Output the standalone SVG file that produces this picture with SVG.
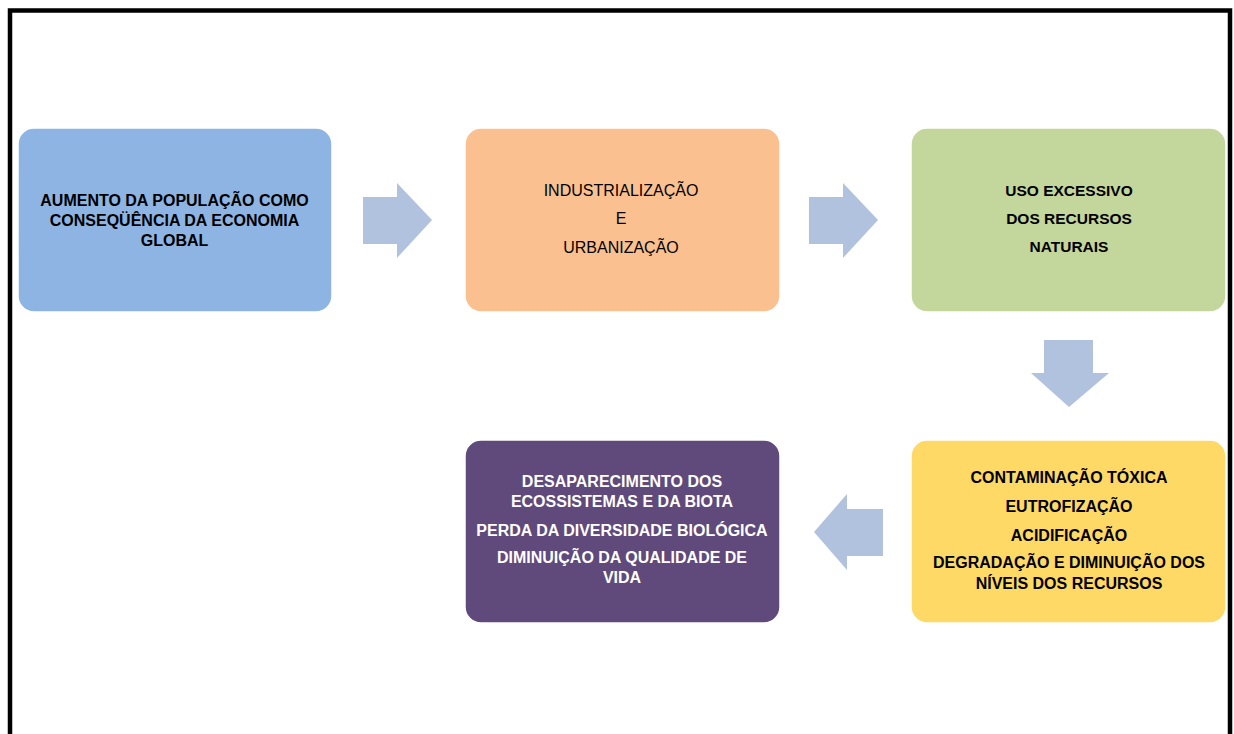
<svg xmlns="http://www.w3.org/2000/svg" width="1234" height="734" viewBox="0 0 1234 734">
<style>
.box{stroke:#ffffff;stroke-width:1.5}
.t{font-family:"Liberation Sans",Arial,sans-serif;font-size:16px;font-weight:bold;text-anchor:middle;fill:#000000}
.r{font-weight:normal}
.w{fill:#ffffff}
.arrow{fill:#B1C2DE}
</style>
<rect x="0" y="0" width="1234" height="734" fill="#ffffff"/>
<path d="M10,734 V10.5 H1230 V734" fill="none" stroke="#000000" stroke-width="4.5"/>
<g id="connectors">
<path class="arrow" d="M363,197 H397 V183 L432,220 L397,258 V244 H363 Z"/>
<path class="arrow" d="M809,197 H843 V183 L878,220 L843,258 V244 H809 Z"/>
<path class="arrow" d="M1044,340 H1093 V373 H1109 L1069,407 L1031,373 H1044 Z"/>
<path class="arrow" d="M883,509 H847 V494 L814,532 L847,570 V556 H883 Z"/>
</g>
<g id="node1">
<rect class="box" x="18" y="128" width="314" height="184" rx="16" fill="#8EB4E3"/>
<text class="t" x="174.5" y="206">AUMENTO DA POPULAÇÃO COMO</text>
<text class="t" x="174.5" y="226">CONSEQÜÊNCIA DA ECONOMIA</text>
<text class="t" x="174.5" y="246">GLOBAL</text>
</g>
<g id="node2">
<rect class="box" x="465" y="128" width="315" height="184" rx="16" fill="#FAC090"/>
<text class="t r" x="621" y="196">INDUSTRIALIZAÇÃO</text>
<text class="t r" x="621" y="224">E</text>
<text class="t r" x="621" y="253">URBANIZAÇÃO</text>
</g>
<g id="node3">
<rect class="box" x="911" y="128" width="315" height="184" rx="16" fill="#C3D69B"/>
<text class="t" x="1069" y="196" style="font-size:15.5px">USO EXCESSIVO</text>
<text class="t" x="1069" y="224" style="font-size:15.5px">DOS RECURSOS</text>
<text class="t" x="1069" y="252" style="font-size:15.5px">NATURAIS</text>
</g>
<g id="node4">
<rect class="box" x="911" y="440" width="315" height="183" rx="16" fill="#FFD966"/>
<text class="t" x="1069" y="483">CONTAMINAÇÃO TÓXICA</text>
<text class="t" x="1069" y="512">EUTROFIZAÇÃO</text>
<text class="t" x="1069" y="541">ACIDIFICAÇÃO</text>
<text class="t" x="1069" y="568">DEGRADAÇÃO E DIMINUIÇÃO DOS</text>
<text class="t" x="1069" y="589">NÍVEIS DOS RECURSOS</text>
</g>
<g id="node5">
<rect class="box" x="465" y="440" width="315" height="183" rx="16" fill="#604A7B"/>
<text class="t w" x="622" y="487">DESAPARECIMENTO DOS</text>
<text class="t w" x="622" y="507">ECOSSISTEMAS E DA BIOTA</text>
<text class="t w" x="622" y="536">PERDA DA DIVERSIDADE BIOLÓGICA</text>
<text class="t w" x="622" y="563">DIMINUIÇÃO DA QUALIDADE DE</text>
<text class="t w" x="622" y="583">VIDA</text>
</g>
</svg>
